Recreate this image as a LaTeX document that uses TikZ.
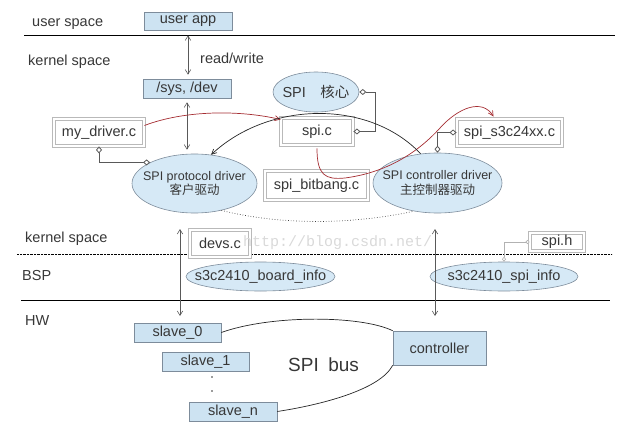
\documentclass[tikz,border=0pt]{standalone}
\usepackage{fontspec}
\setmainfont{Liberation Sans}
\setmonofont{Liberation Mono}
\newfontfamily\cjk{Noto Sans CJK SC}
\usetikzlibrary{shapes.geometric, arrows.meta}
\definecolor{boxfill}{RGB}{205,227,242}
\definecolor{ellfill}{RGB}{214,233,246}
\definecolor{edgegray}{RGB}{125,140,155}
\definecolor{ink}{RGB}{55,55,55}
\definecolor{redline}{RGB}{165,45,50}

\begin{document}
\begin{tikzpicture}[x=1pt, y=-1pt,
        every node/.style = {text=ink, font=\fontsize{14.5}{16}\selectfont},
        bluebox/.style = {draw=edgegray, fill=boxfill, line width=0.6pt, inner sep=0pt},
        filebox/.style = {draw=gray!55, double=white, double distance=2.2pt, line width=0.9pt, fill=white, inner sep=0pt},
        blob/.style = {ellipse, draw=edgegray, fill=ellfill, line width=0.6pt, inner sep=0pt},
        tag/.style = {anchor=west, inner sep=0pt},
        flow/.style = {gray!70!black, line width=0.6pt, {Straight Barb[length=4.5pt,width=5.5pt]}-{Straight Barb[length=4.5pt,width=5.5pt]}},
        call/.style = {redline, line width=0.7pt, -{Straight Barb[length=5pt,width=5pt]}},
        back/.style = {black!85, line width=0.7pt, -{Straight Barb[length=5pt,width=5pt]}},
        link/.style = {gray!70!black, line width=0.8pt, {Diamond[fill=white,length=7pt,width=6pt]}-{Diamond[fill=white,length=7pt,width=6pt]}},
        hlink/.style = {gray!60, line width=0.6pt, {Circle[fill=white,length=4pt]}-{Diamond[fill=white,length=5pt,width=4pt]}},
        bus/.style = {black!85, line width=0.7pt}
    ]
    \useasboundingbox (0,0) rectangle (637,433);

    % layers
    \node[tag] (us) at (32,24) {user space};
    \node[tag] (ks) at (28,62) {kernel space};
    \node[tag] (ks2) at (25,239) {kernel space};
    \node[tag] (bsp) at (22,276) {BSP};
    \node[tag] (hw) at (25,321) {HW};
    \draw (24,35) -- (615,35);
    \draw[densely dotted] (17,254) -- (612,254);
    \draw (21,300) -- (610,300);

    % user / kernel
    \node[bluebox, minimum width=88pt, minimum height=18pt] (app) at (188,21) {user app};
    \node[bluebox, minimum width=88pt, minimum height=19pt] (sys) at (187,88.5) {/sys, /dev};
    \node[tag] (rw) at (200,58) {read/write};

    \node[filebox, minimum width=90pt, minimum height=27pt] (mydrv) at (99,132.5) {my\_driver.c};
    \node[filebox, minimum width=72pt, minimum height=27pt] (spic) at (317,131.5) {spi.c};
    \node[filebox, minimum width=103pt, minimum height=29pt] (bitbang) at (316.5,185.5) {spi\_bitbang.c};
    \node[filebox, minimum width=105pt, minimum height=27pt] (s3c) at (509.5,132.5) {spi\_s3c24xx.c};

    \node[blob, minimum width=86pt, minimum height=40pt,
        label={center:SPI\quad{\cjk 核心}}] (core) at (316,92) {};
    \node[blob, minimum width=125pt, minimum height=59pt,
        label={[font=\fontsize{12.5}{14.5}\selectfont, align=center]center:SPI protocol driver\\{\cjk 客户驱动}}] (proto) at (194.5,183.5) {};
    \node[blob, minimum width=129pt, minimum height=60pt,
        label={[font=\fontsize{12.5}{14.5}\selectfont, align=center]center:SPI controller driver\\{\cjk 主控制器驱动}}] (ctrl) at (437.5,183) {};

    \draw[flow, shorten <=5pt, shorten >=4pt] (app.south) -- (app.south |- sys.north);
    \draw[flow, shorten <=4pt, shorten >=4pt] (sys.south) -- (sys.south |- proto.north);
    \draw[link] (mydrv.south) |- (proto.north west);
    \draw[link] (core.east) -- ++(16,0) |- (spic.east);
    \draw[link] (s3c.west) -| (ctrl.north);
    \draw[call] ([yshift=7pt]mydrv.east) .. controls (185,110) and (240,110) .. ([yshift=12pt]spic.west);
    \draw[call] ([yshift=-3pt]spic.south) .. controls (317,175) and (325,180) .. (345,178)
        .. controls (390,172) and (420,150) .. (440,128)
        .. controls (458,108) and (482,98) .. ([xshift=-16pt,yshift=2pt]s3c.north);
    \draw[back] (ctrl.120) .. controls (370,100) and (270,100) .. (proto.60);
    \draw[dotted, black!75, line width=0.7pt] (proto.-45) .. controls (280,225) and (350,225) .. (ctrl.-130);

    % BSP
    \node[filebox, minimum width=60pt, minimum height=27pt] (devs) at (220,243.5) {devs.c};
    \node[filebox, minimum width=54pt, minimum height=18pt] (sph) at (557,242) {spi.h};
    \node[blob, minimum width=149pt, minimum height=29pt,
        label={center:s3c2410\_board\_info}] (board) at (260.5,276.5) {};
    \node[blob, minimum width=148pt, minimum height=29pt,
        label={center:s3c2410\_spi\_info}] (spiinfo) at (504,276.5) {};
    \draw[hlink] (sph.west) -| (spiinfo.north);
    \coordinate (ltop) at (180,229);
    \coordinate (lbot) at (180,316);
    \coordinate (rtop) at (435,229);
    \coordinate (rbot) at (435,316);
    \draw[flow] (ltop) -- (lbot);
    \draw[flow] (rtop) -- (rbot);

    % HW
    \node[bluebox, minimum width=87pt, minimum height=19pt] (s0) at (177.5,332.5) {slave\_0};
    \node[bluebox, minimum width=87pt, minimum height=19pt] (s1) at (205.5,361.5) {slave\_1};
    \node[bluebox, minimum width=88pt, minimum height=19pt] (sn) at (233,411.5) {slave\_n};
    \node[bluebox, minimum width=93pt, minimum height=34pt] (hwctl) at (439.5,348) {controller};
    \fill[ink] (212,377) circle [radius=0.9pt] (212,391) circle [radius=0.9pt];
    \node[tag, font=\fontsize{19}{21}\selectfont] (busname) at (288,365) {SPI\enspace bus};
    \draw[bus] (s0.east) .. controls (270,315) and (360,315) .. (hwctl.north west);
    \draw[bus] (hwctl.south west) .. controls (380,390) and (320,405) .. (sn.east);

    \node[tag, text=gray!30, font=\ttfamily\fontsize{15}{15}\selectfont] (mark) at (243,243) {http://blog.csdn.net/};
\end{tikzpicture}
\end{document}
